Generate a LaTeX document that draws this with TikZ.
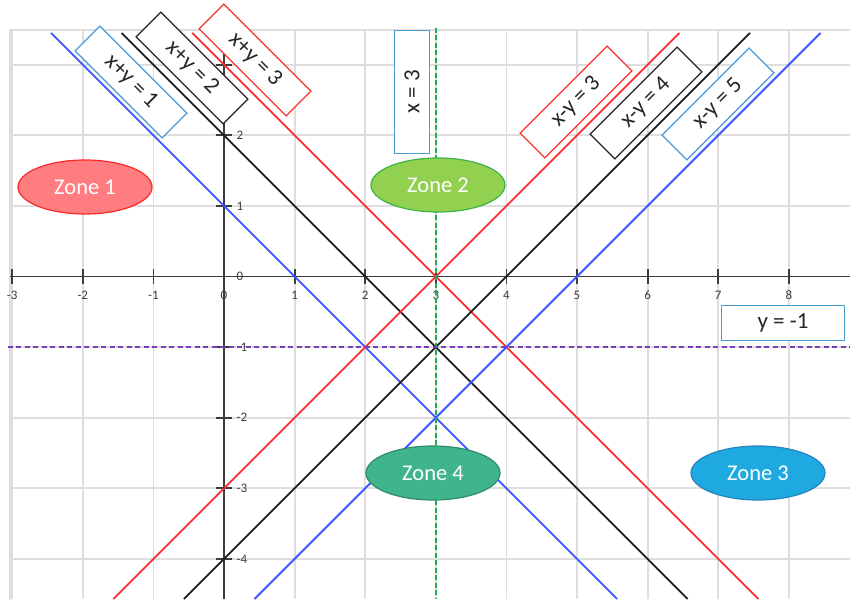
\documentclass[tikz,border=0pt]{standalone}
\usepackage{fontspec}
\setmainfont{Carlito}
\usetikzlibrary{shapes.geometric}
\definecolor{gridc}{RGB}{222,222,222}
\definecolor{axisc}{RGB}{60,60,60}
\definecolor{lblue}{RGB}{60,85,255}
\definecolor{lred}{RGB}{250,45,45}
\definecolor{lblack}{RGB}{30,30,30}
\definecolor{bblue}{RGB}{75,155,215}
\definecolor{bred}{RGB}{250,50,50}
\definecolor{bblack}{RGB}{35,35,35}
\definecolor{vgreen}{RGB}{30,175,80}
\definecolor{hpurple}{RGB}{120,60,190}
\definecolor{zAfill}{RGB}{255,125,128}
\definecolor{zAdraw}{RGB}{250,40,40}
\definecolor{zBfill}{RGB}{146,208,80}
\definecolor{zBdraw}{RGB}{60,180,70}
\definecolor{zCfill}{RGB}{30,170,225}
\definecolor{zCdraw}{RGB}{40,130,190}
\definecolor{zDfill}{RGB}{64,180,140}
\definecolor{zDdraw}{RGB}{45,140,105}
\begin{document}
\begin{tikzpicture}[x=1pt,y=-1pt,
  gridline/.style={draw=gridc, line width=1.8pt},
  axisline/.style={draw=axisc, line width=1.8pt},
  ticklbl/.style={font=\fontsize{13}{15}\selectfont, text=axisc, inner sep=0pt},
  dataline/.style={line width=1.8pt},
  eqbox/.style={draw, fill=white, line width=1.3pt, minimum width=123pt, minimum height=35pt, inner sep=0pt, font=\fontsize{23}{26}\selectfont, text=black!85},
  zone/.style={ellipse, minimum width=134pt, minimum height=54pt, line width=1.2pt, text=white, font=\fontsize{22.5}{26}\selectfont, inner sep=0pt}
]
\useasboundingbox[fill=white] (0,0) rectangle (850,599);
\begin{scope}[shift={(224pt,-276.5pt)}, x=70.6pt, y=70.6pt]
  % grid
  \foreach \i in {-3,...,8} \draw[gridline] (\i,-4.568) -- (\i,3.491);
  \foreach \j in {-4,...,3} \draw[gridline] (-3.031,\j) -- (8.867,\j);
  \draw[gridline] (-3.031,-4.6) -- (-3.031,3.491) -- (8.867,3.491);
  % axes
  \draw[axisline] (-3.031,0) -- (8.867,0);
  \draw[axisline] (0,-4.568) -- (0,3.491);
  \foreach \i in {-3,...,8} \draw[axisline] (\i,-0.106) -- (\i,0.106);
  \foreach \j in {-4,...,3} \draw[axisline] (-0.12,\j) -- (0.12,\j);
  % tick labels
  \foreach \i in {-3,...,8} \node[ticklbl, anchor=base] (xl\i) at (\i,-0.319) {\i};
  \foreach \j in {-4,...,2} \node[ticklbl, anchor=west] (yl\j) at (0.175,\j) {\j};
  % data lines
  \draw[dataline, lblue] (-2.45,3.45) -- (5.568,-4.568);
  \draw[dataline, lblack] (-1.45,3.45) -- (6.568,-4.568);
  \draw[dataline, lred] (-0.45,3.45) -- (7.568,-4.568);
  \draw[dataline, lred] (6.45,3.45) -- (-1.568,-4.568);
  \draw[dataline, lblack] (7.45,3.45) -- (-0.568,-4.568);
  \draw[dataline, lblue] (8.45,3.45) -- (0.432,-4.568);
  % dashed lines
  \draw[draw=vgreen, line width=1.6pt, dash pattern=on 5pt off 2.5pt] (3,3.52) -- (3,-4.568);
  \draw[draw=hpurple, line width=1.6pt, dash pattern=on 5pt off 3.5pt] (-3.06,-1) -- (8.867,-1);
\end{scope}
% equation boxes
\node[eqbox, draw=bblue, rotate=-45] (ea) at (131,82) {x+y = 1};
\node[eqbox, draw=bblack, rotate=-45] (eb) at (192,68) {x+y = 2};
\node[eqbox, draw=bred, rotate=-45] (ec) at (255,60) {x+y = 3};
\node[eqbox, draw=bblue, rotate=90] (ed) at (412,92) {x = 3};
\node[eqbox, draw=bred, rotate=45] (ee) at (576,102) {x-y = 3};
\node[eqbox, draw=bblack, rotate=45] (ef) at (646,103) {x-y = 4};
\node[eqbox, draw=bblue, rotate=45] (eg) at (718,104) {x-y = 5};
\node[eqbox, draw=bblue] (eh) at (783,323) {y = -1};
% zones
\node[zone, fill=zAfill, draw=zAdraw] (z1) at (85,187) {Zone 1};
\node[zone, fill=zBfill, draw=zBdraw] (z2) at (438,185) {Zone 2};
\node[zone, fill=zDfill, draw=zDdraw] (z4) at (433,473) {Zone 4};
\node[zone, fill=zCfill, draw=zCdraw] (z3) at (758,473) {Zone 3};
\end{tikzpicture}
\end{document}
